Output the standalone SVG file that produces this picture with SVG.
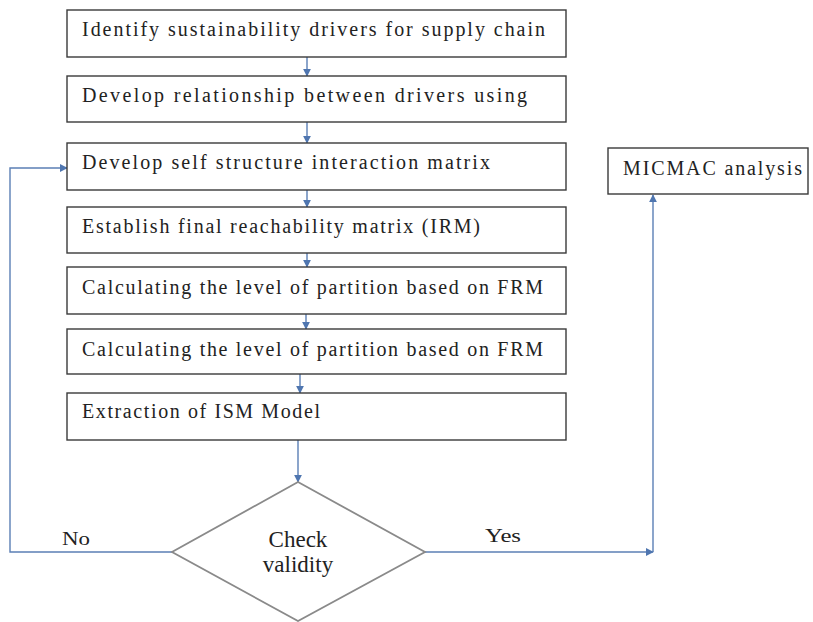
<svg xmlns="http://www.w3.org/2000/svg" width="813" height="622" viewBox="0 0 813 622">
<style>
.box{fill:#fff;stroke:#3a3a3a;stroke-width:1.4}
.dia{fill:#fff;stroke:#8a8a8a;stroke-width:1.8}
.t{font-family:"Liberation Serif","Times New Roman",serif;font-size:20px;fill:#222}
.s{font-family:"Liberation Serif","Times New Roman",serif;font-size:18px;fill:#222}
.big{font-family:"Liberation Serif","Times New Roman",serif;font-size:23px;fill:#222;text-anchor:middle}
.c{fill:none;stroke:#5b7fb5;stroke-width:1.4}
</style>
<defs>
<marker id="ah" viewBox="0 0 10 10" refX="9" refY="5" markerWidth="8" markerHeight="8" markerUnits="userSpaceOnUse" orient="auto">
<path d="M0,0 L10,5 L0,10 z" fill="#4f76b0"/>
</marker>
</defs>
<rect width="813" height="622" fill="#fff"/>
<g id="connectors">
<line class="c" x1="307" y1="57" x2="307" y2="76" marker-end="url(#ah)"/>
<line class="c" x1="307" y1="122" x2="307" y2="143" marker-end="url(#ah)"/>
<line class="c" x1="307" y1="190" x2="307" y2="207" marker-end="url(#ah)"/>
<line class="c" x1="307" y1="253" x2="307" y2="267" marker-end="url(#ah)"/>
<line class="c" x1="306" y1="314" x2="306" y2="329" marker-end="url(#ah)"/>
<line class="c" x1="300" y1="374" x2="300" y2="393" marker-end="url(#ah)"/>
<line class="c" x1="298" y1="440" x2="298" y2="482" marker-end="url(#ah)"/>
<polyline class="c" points="172,552 10,552 10,168 67,168" marker-end="url(#ah)"/>
<line class="c" x1="425" y1="552" x2="653" y2="552" marker-end="url(#ah)"/>
<line class="c" x1="653" y1="552" x2="653" y2="195" marker-end="url(#ah)"/>
<text class="s" x="62" y="545" textLength="28" lengthAdjust="spacingAndGlyphs">No</text>
<text class="s" x="485" y="542" textLength="36" lengthAdjust="spacingAndGlyphs">Yes</text>
</g>
<g id="n1"><rect class="box" x="67" y="10" width="499" height="47"/><text class="t" x="82" y="36" textLength="463" lengthAdjust="spacing">Identify sustainability drivers for supply chain</text></g>
<g id="n2"><rect class="box" x="67" y="76" width="499" height="46"/><text class="t" x="82" y="102" textLength="445" lengthAdjust="spacing">Develop relationship between drivers using</text></g>
<g id="n3"><rect class="box" x="67" y="143" width="499" height="47"/><text class="t" x="82" y="169" textLength="408" lengthAdjust="spacing">Develop self structure interaction matrix</text></g>
<g id="n4"><rect class="box" x="67" y="207" width="499" height="46"/><text class="t" x="82" y="233" textLength="398" lengthAdjust="spacing">Establish final reachability matrix (IRM)</text></g>
<g id="n5"><rect class="box" x="67" y="267" width="499" height="47"/><text class="t" x="82" y="294" textLength="461" lengthAdjust="spacing">Calculating the level of partition based on FRM</text></g>
<g id="n6"><rect class="box" x="67" y="329" width="499" height="45"/><text class="t" x="82" y="356" textLength="461" lengthAdjust="spacing">Calculating the level of partition based on FRM</text></g>
<g id="n7"><rect class="box" x="67" y="393" width="499" height="47"/><text class="t" x="82" y="418" textLength="238" lengthAdjust="spacing">Extraction of ISM Model</text></g>
<g id="micmac"><rect class="box" x="608" y="148" width="200" height="46"/><text class="t" x="623" y="175" textLength="179" lengthAdjust="spacing">MICMAC analysis</text></g>
<g id="check"><polygon class="dia" points="298,482 425,552 298,621 172,552"/><text class="big" x="298" y="547">Check</text><text class="big" x="298" y="572">validity</text></g>
</svg>
